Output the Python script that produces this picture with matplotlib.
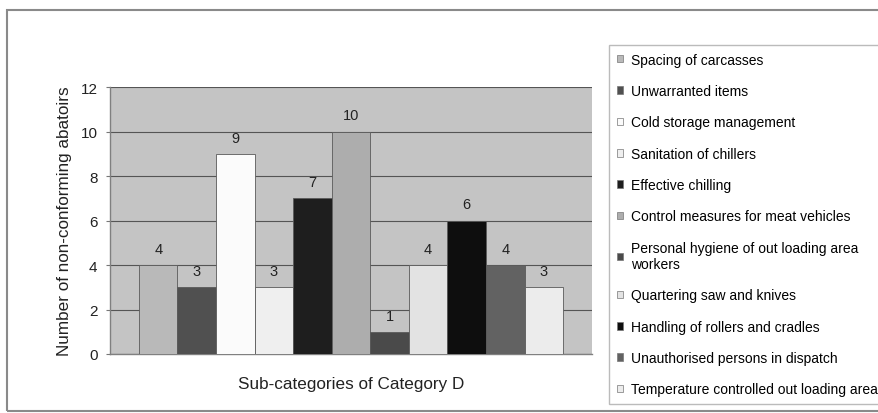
import matplotlib
matplotlib.use('Agg')
import matplotlib.pyplot as plt
from matplotlib.patches import Patch, Rectangle

plt.rcParams['font.family'] = ['Liberation Sans', 'DejaVu Sans']

# Sub-categories of Category D and the number of abattoirs failing each one
subcategories = ['Spacing of carcasses',
                 'Unwarranted items',
                 'Cold storage management',
                 'Sanitation of chillers',
                 'Effective chilling',
                 'Control measures for meat vehicles',
                 'Personal hygiene of out loading area\nworkers',
                 'Quartering saw and knives',
                 'Handling of rollers and cradles',
                 'Unauthorised persons in dispatch',
                 'Temperature controlled out loading area']
counts = [4, 3, 9, 3, 7, 10, 1, 4, 6, 4, 3]
bar_colors = ['#b9b9b9', '#505050', '#fbfbfb', '#efefef', '#1e1e1e',
              '#adadad', '#4a4a4a', '#e3e3e3', '#0e0e0e', '#626262',
              '#ececec']
y_ticks = [0, 2, 4, 6, 8, 10, 12]

W, H = 879, 414
fig = plt.figure(figsize=(W / 100, H / 100), dpi=100)
fig.patch.set_facecolor('white')

# pixel box of the plot area
left, right, top, bottom = 110, 592, 88, 355
ax = fig.add_axes([left / W, 1 - bottom / H, (right - left) / W, (bottom - top) / H])
ax.set_facecolor('#c4c4c4')

positions = list(range(len(counts)))
bars = ax.bar(positions, counts, width=1.0, color=bar_colors,
              edgecolor='#5a5a5a', linewidth=0.6, zorder=3)

for x, v in zip(positions, counts):
    ax.annotate(str(v), (x, v), xytext=(0, 6.5), textcoords='offset points',
                ha='center', va='bottom', fontsize=10.5, color='#222222')

ax.set_xlim(-1.25, len(counts) - 1 + 1.25)
ax.set_ylim(0, 12)
ax.set_yticks(y_ticks)
ax.set_xticks([])
ax.tick_params(axis='y', labelsize=11, length=3, color='#777777',
               labelcolor='#222222', pad=6)
ax.yaxis.grid(True, color='#555555', linewidth=0.8, zorder=0)
ax.set_axisbelow(True)
for side in ['top', 'right']:
    ax.spines[side].set_visible(False)
for side in ['left', 'bottom']:
    ax.spines[side].set_color('#808080')
    ax.spines[side].set_linewidth(1.0)

ax.set_ylabel('Number of non-conforming abatoirs', fontsize=12.3,
              color='#222222', labelpad=6)
ax.set_xlabel('Sub-categories of Category D', fontsize=12.3,
              color='#222222', labelpad=16)

handles = [Patch(facecolor=c, edgecolor='#777777', linewidth=0.5)
           for c in bar_colors]
leg = fig.legend(handles, subcategories, loc='upper left',
                 bbox_to_anchor=(609 / W, 1 - 46 / H),
                 fontsize=10, frameon=True, fancybox=False,
                 edgecolor='#aaaaaa', borderaxespad=0, borderpad=0.55,
                 labelspacing=1.25, handlelength=0.45, handleheight=0.45,
                 handletextpad=0.55)
leg.get_frame().set_linewidth(1.0)

# grey frame around the whole chart
fig.patches.append(Rectangle((7 / W, 1 - 412 / H), 1.0, (412 - 11) / H,
                             transform=fig.transFigure, fill=False,
                             edgecolor='#8a8a8a', linewidth=1.5))

fig.savefig('out.png', dpi=100)
